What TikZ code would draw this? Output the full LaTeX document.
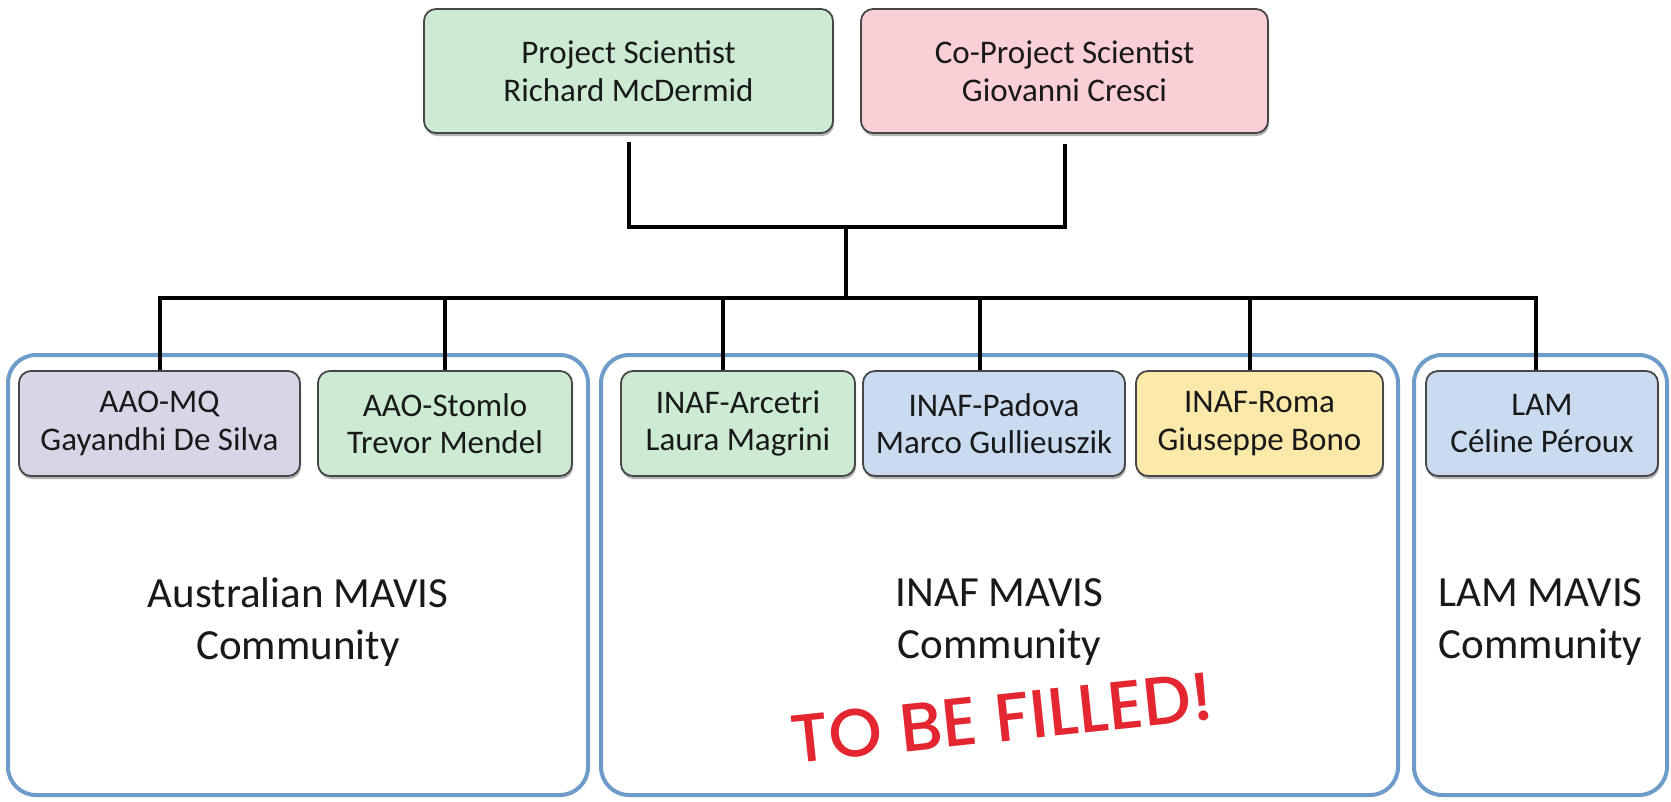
\documentclass[tikz,border=0pt]{standalone}
\usepackage{fontspec}
\setmainfont{Carlito}
\newfontfamily\redfont{Poppins Medium}
\usetikzlibrary{shadows,calc}
\definecolor{cgreen}{HTML}{CDEBD3}
\definecolor{cpink}{HTML}{FBCFD6}
\definecolor{clav}{HTML}{DAD4E7}
\definecolor{cblue}{HTML}{CADBF0}
\definecolor{cyellow}{HTML}{FBE9A9}
\definecolor{cborder}{HTML}{6D9CCB}
\definecolor{cred}{HTML}{E3262F}
\begin{document}
\begin{tikzpicture}[x=1pt,y=-1pt,
  box/.style={draw=black!72, line width=1.8pt, rounded corners=12pt, align=center,
    font=\fontsize{33}{37.5}\selectfont, text=black!90, inner sep=0pt,
    drop shadow={shadow xshift=1pt, shadow yshift=-3pt, opacity=0.3, fill=black}},
  topbox/.style={box, minimum height=124pt},
  unitbox/.style={box, minimum height=105pt},
  group/.style={draw=cborder, line width=4pt, rounded corners=28pt, inner sep=0pt, minimum height=440pt},
  grouplabel/.style={align=center, font=\fontsize{43}{52}\selectfont, text=black!90},
  wire/.style={line width=4pt, black}]
\useasboundingbox (0,0) rectangle (1671,801);
\fill[white] (0,0) rectangle (1671,801);

% community groups
\node[group, minimum width=580pt] (aus) at (298,575) {};
\node[group, minimum width=797pt] (inaf) at (999.5,575) {};
\node[group, minimum width=253pt] (lamg) at (1540.5,575) {};

% top boxes
\node[topbox, fill=cgreen, minimum width=409pt] (ps) at (628.5,71) {Project Scientist\\Richard McDermid};
\node[topbox, fill=cpink, minimum width=407pt] (cps) at (1064.5,71) {Co-Project Scientist\\Giovanni Cresci};

% unit boxes
\node[unitbox, fill=clav, minimum width=281pt] (mq) at (159.5,423.5) {AAO-MQ\\Gayandhi De Silva};
\node[unitbox, fill=cgreen, minimum width=254pt] (stomlo) at (445,423.5) {AAO-Stomlo\\Trevor Mendel};
\node[unitbox, fill=cgreen, minimum width=234pt] (arcetri) at (738,423.5) {INAF-Arcetri\\Laura Magrini};
\node[unitbox, fill=cblue, minimum width=262pt] (padova) at (994,423.5) {INAF-Padova\\Marco Gullieuszik};
\node[unitbox, fill=cyellow, minimum width=247pt] (roma) at (1259.5,423.5) {INAF-Roma\\Giuseppe Bono};
\node[unitbox, fill=cblue, minimum width=232pt] (lam) at (1542,423.5) {LAM\\C\'eline P\'eroux};

% group labels
\node[grouplabel] (auslbl) at (298,622) {Australian MAVIS\\Community};
\node[grouplabel] (inaflbl) at (999.5,622) {INAF MAVIS\\Community};
\node[grouplabel] (lamlbl) at (1540.5,622) {LAM MAVIS\\Community};

% connectors
\coordinate (j1) at (845.5,227);
\coordinate (bus) at (845.5,298);
\draw[wire] ([yshift=-8pt]ps.south) |- (j1) -| ([yshift=-10pt]cps.south);
\draw[wire] (j1) -- (bus);
\draw[wire] (mq.north) |- (bus) -| ([xshift=-6pt]lam.north);
\draw[wire] (stomlo.north |- bus) -- (stomlo.north);
\draw[wire] ([xshift=-15pt]arcetri.north |- bus) -- ([xshift=-15pt]arcetri.north);
\draw[wire] ([xshift=-14pt]padova.north |- bus) -- ([xshift=-14pt]padova.north);
\draw[wire] ([xshift=-10pt]roma.north |- bus) -- ([xshift=-10pt]roma.north);

% stamp
\node[text=cred, font=\redfont\fontsize{68}{68}\selectfont, rotate=6, inner sep=0pt] (stamp) at (1002,718) {TO BE FILLED!};
\end{tikzpicture}
\end{document}
